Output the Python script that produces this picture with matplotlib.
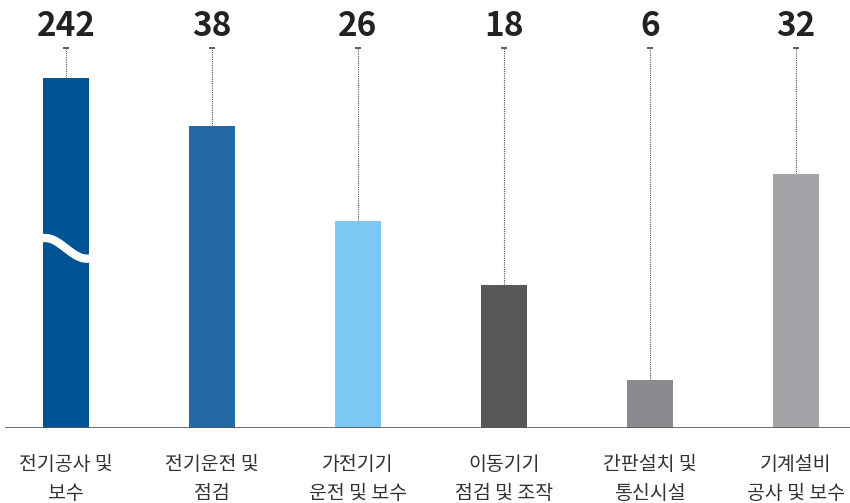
import numpy as np
import matplotlib
matplotlib.use('Agg')
import matplotlib.pyplot as plt

plt.rcParams['font.family'] = ['Noto Sans CJK KR', 'DejaVu Sans']

# data
categories = ['전기공사 및\n보수', '전기운전 및\n점검', '가전기기\n운전 및 보수',
              '이동기기\n점검 및 조작', '간판설치 및\n통신시설', '기계설비\n공사 및 보수']
values = [242, 38, 26, 18, 6, 32]
cap = 44          # first bar is broken, drawn at this height
colors = ['#005493', '#2369A5', '#7BC8F0', '#58585A', '#8A8B8E', '#A3A4A8']

drawn = [min(v, cap) for v in values]
x = np.arange(len(values))

fig = plt.figure(figsize=(8.5, 5.03), dpi=100)
ax = fig.add_axes([5/850, 75/503, 845/850, 428/503])

ax.bar(x, drawn, width=0.315, color=colors, zorder=2)

ymax = 428/7.95
ax.set_xlim(-61/146, 5 + 54/146)
ax.set_ylim(0, ymax)

# value labels + dotted leader lines
for xi, v, h in zip(x, values, drawn):
    ax.plot([xi, xi], [h, 47.8], ls=(0, (1, 1)), lw=0.8, color='#555555', zorder=1)
    ax.plot(xi, 47.8, marker='_', ms=5, mew=1.2, color='#444444')
    ax.text(xi, 50.5, str(v), ha='center', va='center', fontsize=24,
            fontweight='bold', color='#222222')

# wave for broken bar
t = np.linspace(-0.5, np.pi + 0.5, 80)
wx = np.linspace(-0.19, 0.19, 80)
wy = 22.6 + 1.3*np.cos(t)
ax.plot(wx, wy, color='white', lw=6, solid_capstyle='butt', zorder=3)

# baseline
ax.axhline(0, color='#555555', lw=1.2, zorder=4)

for s in ax.spines.values():
    s.set_visible(False)
ax.set_yticks([])
ax.set_xticks(x)
ax.set_xticklabels(categories, fontsize=14, color='#333333', linespacing=1.5)
ax.tick_params(axis='x', length=0, pad=19)

fig.savefig('out.png', dpi=100)
